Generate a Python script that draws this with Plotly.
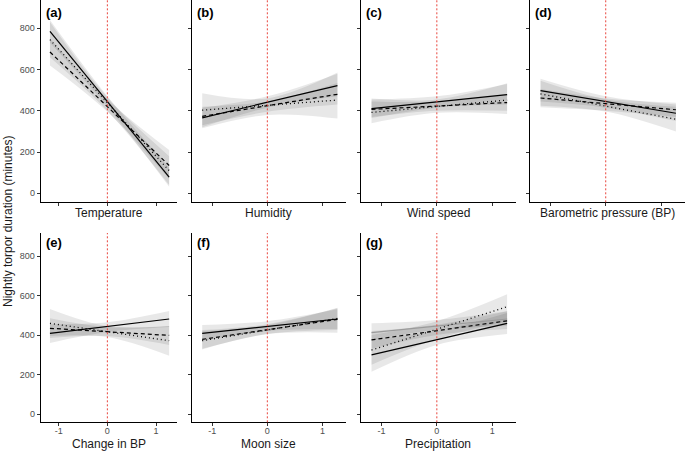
import plotly.graph_objects as go

# ---------------- data ----------------
panel_tags = ["(a)", "(b)", "(c)", "(d)", "(e)", "(f)", "(g)"]
panel_titles = ["Temperature", "Humidity", "Wind speed", "Barometric pressure (BP)",
                "Change in BP", "Moon size", "Precipitation"]
y_ticks = [0, 200, 400, 600, 800]
x_ticks = [-1, 0, 1]
x_tick_labels = ["-1", "0", "1"]
line_x = [-1.18, 1.27]
band_x = [-1.18, 0.0, 1.27]

# fitted lines (value at left end, value at right end) per panel
solid_y = [[785, 78], [366, 522], [410, 478], [498, 388], [408, 481], [408, 481], [299, 459]]
dashed_y = [[685, 135], [373, 480], [407, 440], [462, 405], [434, 398], [378, 479], [375, 472]]
dotted_y = [[745, 110], [403, 452], [392, 452], [482, 359], [459, 371], [371, 484], [324, 543]]
grey_y_g = [412, 481]

# confidence ribbons (left, centre, right) per panel
solid_lo = [[730, 420, 32], [320, 415, 470], [365, 415, 430], [445, 415, 350],
            [360, 415, 440], [370, 420, 430], [214, 350, 405]]
solid_hi = [[840, 470, 125], [415, 470, 580], [455, 470, 530], [555, 470, 430],
            [455, 465, 522], [451, 470, 530], [380, 420, 512]]
dashed_lo = [[620, 395, 70], [330, 395, 430], [370, 400, 400], [417, 400, 370],
             [385, 395, 350], [330, 405, 425], [330, 400, 430]]
dashed_hi = [[750, 455, 210], [420, 445, 535], [445, 445, 480], [505, 460, 439],
             [485, 440, 445], [425, 455, 535], [420, 452, 520]]
dotted_lo = [[660, 400, 40], [315, 380, 362], [340, 390, 384], [425, 396, 299],
             [395, 390, 295], [327, 405, 412], [250, 380, 470]]
dotted_hi = [[830, 465, 180], [485, 460, 585], [460, 455, 533], [545, 455, 420],
             [532, 445, 445], [420, 450, 538], [400, 470, 606]]
grey_lo_g = [375, 425, 445]
grey_hi_g = [459, 476, 520]

# ---------------- layout geometry ----------------
W, H = 685, 451
col_px = [(40.7, 176.7), (191.7, 346.0), (361.0, 515.7), (530.0, 684.5)]
row_px = [(0.0, 202.3), (233.0, 422.3)]
row_yrange = [[-43.6, 937], [-42.0, 916.5]]
x_range = [-1.37, 1.425]

FONT = "Liberation Sans, Arial, sans-serif"
BAND = "rgba(0,0,0,0.09)"

fig = go.Figure()


def ax_names(i):
    s = "" if i == 0 else str(i + 1)
    return "x" + s, "y" + s, "xaxis" + s, "yaxis" + s


def add_band(xref, yref, lo, hi):
    fig.add_trace(go.Scatter(x=band_x, y=lo, xaxis=xref, yaxis=yref, mode="lines",
                             line=dict(width=0, shape="spline", smoothing=1.0),
                             hoverinfo="skip", showlegend=False))
    fig.add_trace(go.Scatter(x=band_x, y=hi, xaxis=xref, yaxis=yref, mode="lines",
                             line=dict(width=0, shape="spline", smoothing=1.0),
                             fill="tonexty", fillcolor=BAND,
                             hoverinfo="skip", showlegend=False))


annotations = []
shapes = []
for i in range(7):
    xr, yr, xa, ya = ax_names(i)
    row = 0 if i < 4 else 1
    col = i if i < 4 else i - 4
    # ribbons
    add_band(xr, yr, solid_lo[i], solid_hi[i])
    add_band(xr, yr, dashed_lo[i], dashed_hi[i])
    add_band(xr, yr, dotted_lo[i], dotted_hi[i])
    if i == 6:
        add_band(xr, yr, grey_lo_g, grey_hi_g)
        fig.add_trace(go.Scatter(x=line_x, y=grey_y_g, xaxis=xr, yaxis=yr, mode="lines",
                                 line=dict(color="#9a9a9a", width=1.2),
                                 showlegend=False))
    # lines
    fig.add_trace(go.Scatter(x=line_x, y=solid_y[i], xaxis=xr, yaxis=yr, mode="lines",
                             line=dict(color="black", width=1.2), showlegend=False))
    fig.add_trace(go.Scatter(x=line_x, y=dashed_y[i], xaxis=xr, yaxis=yr, mode="lines",
                             line=dict(color="black", width=1.2, dash="4px,3px"),
                             showlegend=False))
    fig.add_trace(go.Scatter(x=line_x, y=dotted_y[i], xaxis=xr, yaxis=yr, mode="lines",
                             line=dict(color="black", width=1.3, dash="1px,3px"),
                             showlegend=False))

    x0, x1 = col_px[col]
    y0, y1 = row_px[row]
    fig.update_layout(**{
        xa: dict(domain=[x0 / W, x1 / W], range=x_range, anchor=yr,
                 showline=True, linecolor="black", linewidth=1,
                 ticks="outside", ticklen=3, tickwidth=1, tickcolor="#333333",
                 tickvals=x_ticks, ticktext=x_tick_labels,
                 showticklabels=(row == 1), ticklabelstandoff=-3,
                 tickfont=dict(family=FONT, size=9, color="#4D4D4D"),
                 showgrid=False, zeroline=False, fixedrange=True),
        ya: dict(domain=[1 - y1 / H, 1 - y0 / H], range=row_yrange[row], anchor=xr,
                 showline=True, linecolor="black", linewidth=1,
                 ticks="outside", ticklen=3, tickwidth=1, tickcolor="#333333",
                 tickvals=y_ticks, showticklabels=(col == 0),
                 tickfont=dict(family=FONT, size=9, color="#4D4D4D"),
                 showgrid=False, zeroline=False, fixedrange=True),
    })
    # vertical red reference line at 0
    shapes.append(dict(type="line", xref=xr, yref=yr + " domain", x0=0, x1=0, y0=0, y1=1,
                       line=dict(color="#E8453C", width=1, dash="2px,2px"), layer="above"))
    # panel tag
    annotations.append(dict(text="<b>%s</b>" % panel_tags[i], xref="paper", yref="paper",
                            x=(x0 + 3) / W, y=1 - (13 if row == 0 else 242) / H,
                            xanchor="left", yanchor="middle", showarrow=False,
                            font=dict(family=FONT, size=13, color="black")))
    # x title
    annotations.append(dict(text=panel_titles[i], xref="paper", yref="paper",
                            x=(x0 + x1) / 2 / W, y=1 - (213 if row == 0 else 444) / H,
                            xanchor="center", yanchor="middle", showarrow=False,
                            font=dict(family=FONT, size=12, color="#1a1a1a")))

annotations.append(dict(text="Nightly torpor duration (minutes)", xref="paper", yref="paper",
                        x=8 / W, y=1 - 222 / H, textangle=-90, xanchor="center",
                        yanchor="middle", showarrow=False,
                        font=dict(family=FONT, size=12, color="#1a1a1a")))

fig.update_layout(width=W, height=H, margin=dict(l=0, r=0, t=0, b=0),
                  paper_bgcolor="white", plot_bgcolor="white", showlegend=False,
                  annotations=annotations, shapes=shapes,
                  font=dict(family=FONT))

fig.write_html("out.html", config={"displayModeBar": False},
               post_script="document.body.style.margin='0';document.body.style.overflow='hidden';")
